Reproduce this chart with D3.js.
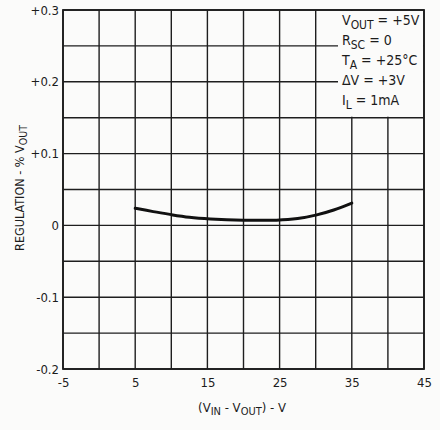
<!DOCTYPE html>
<html>
<head>
<meta charset="utf-8">
<script src="https://cdn.jsdelivr.net/npm/d3@7"></script>
<style>
  body { margin: 0; background: #fbfbfa; }
  svg { display: block; }
  text { font-family: "Liberation Sans Narrow", "DejaVu Sans Condensed", sans-serif; fill: #1c1c1c; }
</style>
</head>
<body>
<svg id="chart" width="440" height="430"></svg>
<script>
// Headroom voltage (V) vs. line regulation (% of VOUT)
const headroom = [5, 7.5, 10, 12.5, 15, 20, 25, 27.5, 30, 32.5, 35];
const regulation = [0.024, 0.019, 0.015, 0.011, 0.009, 0.007, 0.007, 0.009, 0.014, 0.021, 0.031];

const xTicks = [-5, 5, 15, 25, 35, 45];
const yTicks = [0.3, 0.2, 0.1, 0, -0.1, -0.2];
const yTickLabels = ["+0.3", "+0.2", "+0.1", "0", "-0.1", "-0.2"];

const conditions = [
  { main: "V", sub: "OUT", rest: " = +5V" },
  { main: "R", sub: "SC", rest: " = 0" },
  { main: "T", sub: "A", rest: " = +25°C" },
  { main: "ΔV", sub: "", rest: " = +3V" },
  { main: "I", sub: "L", rest: " = 1mA" }
];

const svg = d3.select("#chart");
const m = { left: 63, right: 424, top: 10, bottom: 369 };

const x = d3.scaleLinear().domain([-5, 45]).range([m.left, m.right]);
const y = d3.scaleLinear().domain([-0.2, 0.3]).range([m.bottom, m.top]);

const ink = "#1e1e1e";

// grid: every 5 V and every 0.05 %
const g = svg.append("g");
g.selectAll("line.v").data(d3.range(-5, 45.1, 5)).join("line")
  .attr("x1", d => x(d)).attr("x2", d => x(d))
  .attr("y1", m.top).attr("y2", m.bottom)
  .attr("stroke", ink).attr("stroke-width", 1.4);
g.selectAll("line.h").data(d3.range(-0.2, 0.301, 0.05)).join("line")
  .attr("x1", m.left).attr("x2", m.right)
  .attr("y1", d => y(d)).attr("y2", d => y(d))
  .attr("stroke", ink).attr("stroke-width", 1.4);

// cleared panel for the test conditions
svg.append("rect")
  .attr("x", 338).attr("y", m.top + 1)
  .attr("width", m.right - 338 - 1)
  .attr("height", y(0.15) - m.top - 2)
  .attr("fill", "#fbfbfa");

// frame
svg.append("rect")
  .attr("x", m.left).attr("y", m.top)
  .attr("width", m.right - m.left).attr("height", m.bottom - m.top)
  .attr("fill", "none").attr("stroke", ink).attr("stroke-width", 1.8);

// axes labels
const xAxis = d3.axisBottom(x).tickValues(xTicks).tickSize(0).tickPadding(9)
  .tickFormat(d => String(d));
svg.append("g").attr("transform", `translate(0,${m.bottom})`).call(xAxis)
  .call(s => s.select(".domain").remove())
  .selectAll("text").attr("font-size", 13).style("font-family", null).attr("fill", "#1c1c1c");

const yAxis = d3.axisLeft(y).tickValues(yTicks).tickSize(0).tickPadding(4)
  .tickFormat((d, i) => yTickLabels[i]);
svg.append("g").attr("transform", `translate(${m.left},0)`).call(yAxis)
  .call(s => s.select(".domain").remove())
  .selectAll("text").attr("font-size", 13).style("font-family", null).attr("fill", "#1c1c1c");

// curve
const line = d3.line().x((d, i) => x(headroom[i])).y(d => y(d)).curve(d3.curveBasis);
svg.append("path").datum(regulation)
  .attr("d", line).attr("fill", "none")
  .attr("stroke", "#111").attr("stroke-width", 3).attr("stroke-linecap", "round");

// conditions text
const ct = svg.append("g").attr("font-size", 14);
conditions.forEach((c, i) => {
  const t = ct.append("text").attr("x", 342).attr("y", 25 + i * 20);
  t.append("tspan").text(c.main);
  if (c.sub) t.append("tspan").attr("dy", 4).attr("font-size", 12).text(c.sub);
  t.append("tspan").attr("dy", c.sub ? -4 : 0).text(c.rest);
});

// x title
const xt = svg.append("text").attr("x", 242).attr("y", 412)
  .attr("text-anchor", "middle").attr("font-size", 13);
xt.append("tspan").text("(V");
xt.append("tspan").attr("dy", 3).attr("font-size", 11).text("IN");
xt.append("tspan").attr("dy", -3).text(" - V");
xt.append("tspan").attr("dy", 3).attr("font-size", 11).text("OUT");
xt.append("tspan").attr("dy", -3).text(") - V");

// y title
const yt = svg.append("text")
  .attr("transform", "translate(24,188) rotate(-90)")
  .attr("text-anchor", "middle").attr("font-size", 12.5);
yt.append("tspan").text("REGULATION - % V");
yt.append("tspan").attr("dy", 3).attr("font-size", 10.5).text("OUT");
</script>
</body>
</html>
